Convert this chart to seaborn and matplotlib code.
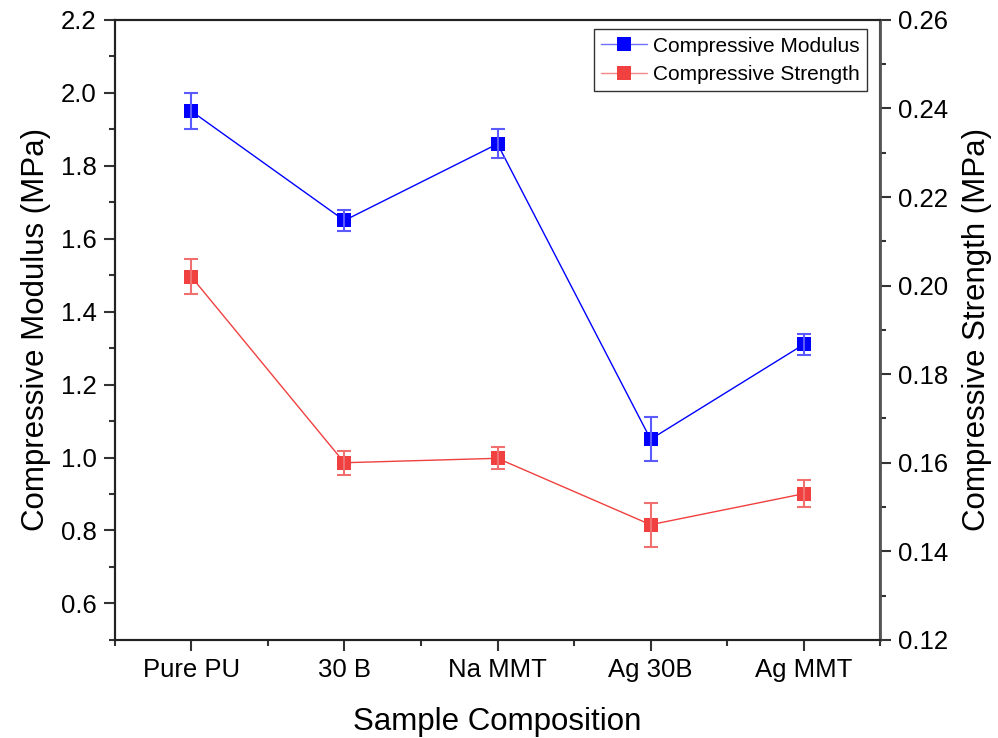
import matplotlib
matplotlib.use("Agg")
import matplotlib.pyplot as plt
import seaborn as sns
import pandas as pd
import numpy as np
from matplotlib.ticker import MultipleLocator, FormatStrFormatter

samples = ["Pure PU", "30 B", "Na MMT", "Ag 30B", "Ag MMT"]
modulus = [1.95, 1.65, 1.86, 1.05, 1.31]
modulus_err = [0.05, 0.03, 0.04, 0.06, 0.03]
strength = [0.202, 0.160, 0.161, 0.146, 0.153]
strength_err = [0.004, 0.0027, 0.0025, 0.005, 0.003]

sns.set_theme(style="ticks")
plt.rcParams['font.family'] = ['Liberation Sans', 'DejaVu Sans']
plt.rcParams['text.color'] = 'black'
plt.rcParams['axes.labelcolor'] = 'black'
plt.rcParams['xtick.labelcolor'] = 'black'
plt.rcParams['ytick.labelcolor'] = 'black'

df = pd.DataFrame({"Sample": samples, "Modulus": modulus, "ModErr": modulus_err,
                   "Strength": strength, "StrErr": strength_err})
df["x"] = np.arange(len(samples))

fig = plt.figure(figsize=(9.98, 7.38), dpi=100)
ax = fig.add_axes([0.115, 0.133, 0.767, 0.840])
ax2 = ax.twinx()

blue = "#0000FF"
red = "#F04040"

sns.lineplot(data=df, x="x", y="Modulus", ax=ax, color=blue, linewidth=1,
             marker="s", markersize=10, markeredgewidth=0, label="Compressive Modulus", legend=False)
ax.errorbar(df["x"], df["Modulus"], yerr=df["ModErr"], fmt="none", ecolor="#5A5AFF",
            elinewidth=1.5, capsize=5, capthick=1.5)
sns.lineplot(data=df, x="x", y="Strength", ax=ax2, color=red, linewidth=1,
             marker="s", markersize=10, markeredgewidth=0, label="Compressive Strength", legend=False)
ax2.errorbar(df["x"], df["Strength"], yerr=df["StrErr"], fmt="none", ecolor="#F07070",
             elinewidth=1.5, capsize=5, capthick=1.5)

ax.set_xlim(-0.5, 4.5)
ax.set_ylim(0.5, 2.2)
ax2.set_ylim(0.12, 0.26)
ax.set_xticks(df["x"])
ax.set_xticklabels(samples)
ax.xaxis.set_minor_locator(MultipleLocator(0.5))
ax.set_yticks(np.arange(0.6, 2.21, 0.2))
ax.yaxis.set_minor_locator(MultipleLocator(0.1))
ax2.yaxis.set_major_locator(MultipleLocator(0.02))
ax2.yaxis.set_minor_locator(MultipleLocator(0.01))
ax.yaxis.set_major_formatter(FormatStrFormatter("%.1f"))
ax2.yaxis.set_major_formatter(FormatStrFormatter("%.2f"))

ax.set_xlabel("Sample Composition", fontsize=22.5, labelpad=18)
ax.set_ylabel("Compressive Modulus (MPa)", fontsize=22.5, labelpad=7)
ax2.set_ylabel("Compressive Strength (MPa)", fontsize=22.5, labelpad=10)

for a in (ax, ax2):
    a.tick_params(axis="both", which="major", labelsize=18.5, direction="out", length=8, width=1.5,
                  color="#333333", pad=5)
    a.tick_params(axis="both", which="minor", direction="out", length=4.5, width=1.5, color="#333333")
    for s in a.spines.values():
        s.set_linewidth(1.5)
        s.set_color("#222222")
        s.set_visible(True)
ax2.spines["right"].set_color("#555555")
ax2.spines["right"].set_linewidth(2)

h1, l1 = ax.get_legend_handles_labels()
h2, l2 = ax2.get_legend_handles_labels()
leg = ax.legend(h1 + h2, l1 + l2, loc="upper right", fontsize=15, frameon=True, fancybox=False,
                edgecolor="black", handlelength=2.2, handletextpad=0.3, borderpad=0.35,
                labelspacing=0.45, borderaxespad=0, bbox_to_anchor=(0.983, 0.985))
leg.get_frame().set_linewidth(1)
for line, lc, mc in zip(leg.get_lines(), ["#7070FF", "#F48888"], [blue, red]):
    line.set_color(lc)
    line.set_markerfacecolor(mc)
    line.set_markeredgecolor(mc)

fig.savefig("out.png", dpi=100)
